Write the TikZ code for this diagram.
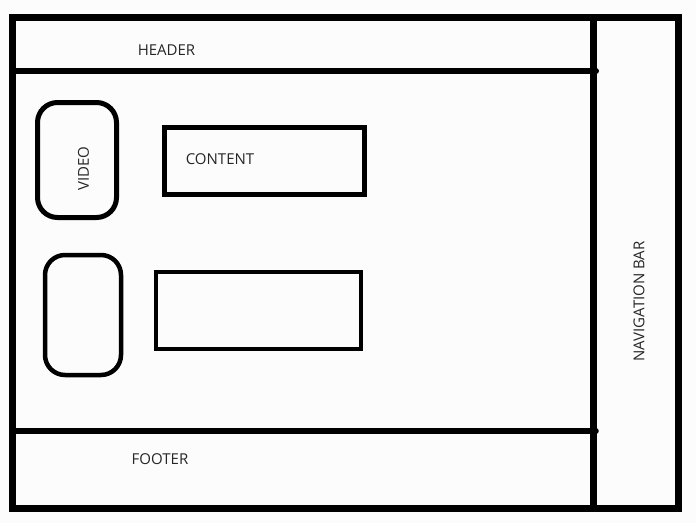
\documentclass[tikz,border=0pt]{standalone}
\usepackage{fontspec}
\setmainfont{Open Sans}
\begin{document}
\begin{tikzpicture}[x=1pt,y=-1pt,
  lbl/.style={inner sep=0pt,font=\fontsize{15}{18}\selectfont,text=black!85},
  roundbox/.style={draw=black,rounded corners=20pt,inner sep=0pt},
  sqbox/.style={draw=black,inner sep=0pt}]
\useasboundingbox (0,0) rectangle (696,523);
\fill[white!99!black] (0,0) rectangle (696,523);
% outer frame
\coordinate (tl) at (12.5,17.5);
\coordinate (br) at (678.5,508.5);
\draw[line width=7pt] (tl) rectangle (br);
% navigation divider
\coordinate (navtop) at (593.5,17.5);
\coordinate (navbot) at (593.5,508.5);
\draw[line width=7pt] (navtop) -- (navbot);
% header / footer lines
\coordinate (hl) at (12.5,71);
\coordinate (hr) at (596,71);
\coordinate (fl) at (12.5,431);
\coordinate (fr) at (596,431);
\draw[line width=6pt,line cap=round] (hl) -- (hr);
\draw[line width=5.5pt,line cap=round] (fl) -- (fr);
% boxes
\node[roundbox,line width=5pt,minimum width=79pt,minimum height=115pt] (video) at (77,160) {};
\node[sqbox,line width=5pt,minimum width=200pt,minimum height=67pt] (content) at (264.5,161) {};
\node[roundbox,line width=4.5pt,minimum width=76pt,minimum height=120pt] (video2) at (83,315) {};
\node[sqbox,line width=4.5pt,minimum width=205pt,minimum height=77pt] (content2) at (258.5,310.5) {};
% labels
\node[lbl] (header) at (166.5,50.5) {HEADER};
\node[lbl] (contentlbl) at (220,159) {CONTENT};
\node[lbl,rotate=90] (videolbl) at (83.5,168.5) {VIDEO};
\node[lbl] (footer) at (160,459) {FOOTER};
\node[lbl,rotate=90] (nav) at (639,301.5) {NAVIGATION BAR};
\end{tikzpicture}
\end{document}
